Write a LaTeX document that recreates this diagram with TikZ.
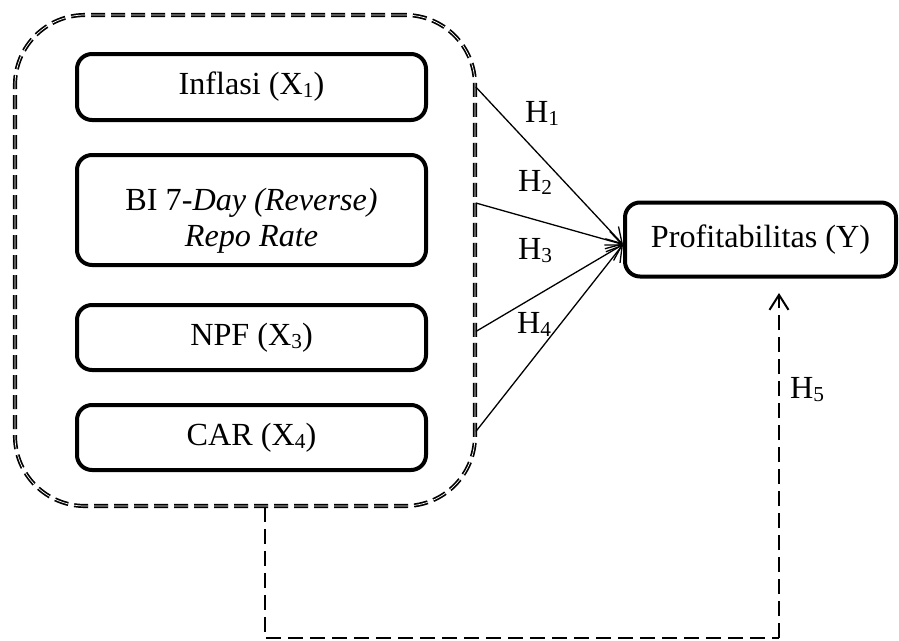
\documentclass[tikz,border=0pt]{standalone}
\usepackage{fontspec}
\setmainfont{Liberation Serif}
\usetikzlibrary{arrows.meta}
\newcommand\lowsub[1]{\raisebox{-3pt}{\fontsize{21.3}{21}\selectfont #1}}
\begin{document}
\begin{tikzpicture}[x=1pt,y=-1pt,
  txt/.style={font=\fontsize{32.2}{36.5}\selectfont, inner sep=0pt},
  varbox/.style={draw, line width=4pt, rounded corners=15pt, inner sep=0pt,
    minimum width=349pt, txt, align=center},
  group/.style={draw, line width=1.7pt, double=white, double distance=0.7pt,
    dash pattern=on 14pt off 6pt, rounded corners=70pt, minimum width=460pt,
    minimum height=491pt, inner sep=0pt},
  hyp/.style={line width=1.3pt, -{Straight Barb[length=15pt,width=18pt,line width=1.3pt]}},
  dline/.style={line width=2pt, dash pattern=on 15pt off 7pt},
  hlab/.style={txt, anchor=base west}
]
\useasboundingbox (0,0) rectangle (899,640);

\node[group] (grp) at (245,260.5) {};

\node[varbox, minimum height=66pt] (inf) at (251.5,87) {Inflasi (X\lowsub{1})};
\node[varbox, minimum height=110pt] (bi) at (251.5,210) {};
\node[txt, align=center] (bitext) at (251.5,221) {BI 7-\textit{Day (Reverse)}\\\textit{Repo Rate}};
\node[varbox, minimum height=65pt] (npf) at (251.5,337.5) {NPF (X\lowsub{3})};
\node[varbox, minimum height=65pt] (car) at (251.5,437.5) {CAR (X\lowsub{4})};

\node[draw, line width=4pt, rounded corners=15pt, inner sep=0pt,
  minimum width=271pt, minimum height=74pt, txt] (prof) at (760.5,239.5) {Profitabilitas (Y)};

\coordinate (tip) at ([yshift=-5pt]prof.west);
\draw[hyp] (grp.east |- inf.center) -- (tip);
\draw[hyp] ([yshift=7pt]grp.east |- bi.center) -- (tip);
\draw[hyp] ([yshift=6pt]grp.east |- npf.center) -- (tip);
\draw[hyp] ([yshift=6pt]grp.east |- car.center) -- (tip);

\node[hlab] (h1) at (525,122) {H\lowsub{1}};
\node[hlab] (h2) at (518,191) {H\lowsub{2}};
\node[hlab] (h3) at (518,259) {H\lowsub{3}};
\node[hlab] (h4) at (517,333) {H\lowsub{4}};
\node[hlab] (h5) at (790,398) {H\lowsub{5}};

\coordinate (bl) at (265,638);
\coordinate (br) at (779,638);
\coordinate (h5tip) at (779,293);
\draw[dline] (bl |- grp.south) -- (bl) -- (br);
\draw[dline, -{Straight Barb[length=15pt,width=19pt,line width=2pt]}] (br) -- (h5tip);
\end{tikzpicture}
\end{document}
